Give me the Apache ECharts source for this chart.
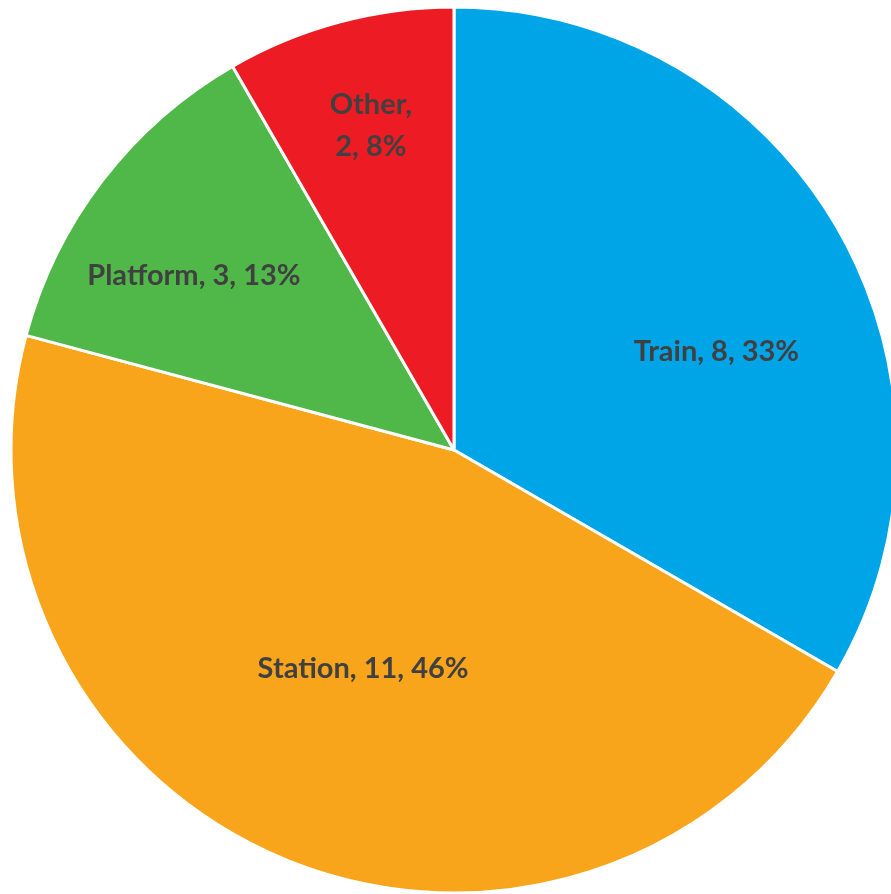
<!DOCTYPE html>
<html>
<head>
<meta charset="utf-8">
<script src="https://cdn.jsdelivr.net/npm/echarts@6/dist/echarts.min.js"></script>
<style>html,body{margin:0;padding:0;background:#fff}#c{width:891px;height:894px}</style>
</head>
<body>
<div id="c"></div>
<script>
const categories = ['Train', 'Station', 'Platform', 'Other'];
const values = [8, 11, 3, 2];

const colors = ['#00A5E8', '#F8A51B', '#50B848', '#ED1C24'];
const labelStyle = {
  Train: { offset: [68, 14] },
  Station: { offset: [-5, 11] },
  Platform: { offset: [-82, -38] },
  Other: { offset: [-25, -108], lineBreak: true }
};

const chart = echarts.init(document.getElementById('c'));
chart.setOption({
  animation: false,
  series: [{
    type: 'pie',
    center: [454, 450],
    radius: [0, 443],
    startAngle: 90,
    clockwise: true,
    avoidLabelOverlap: false,
    percentPrecision: 0,
    itemStyle: { borderColor: '#fff', borderWidth: 3 },
    label: {
      position: 'inside',
      color: '#404040',
      fontFamily: 'Lato',
      fontWeight: 'bold',
      fontSize: 29,
      lineHeight: 42
    },
    labelLine: { show: false },
    data: categories.map((c, i) => ({
      name: c,
      value: values[i],
      itemStyle: { color: colors[i] },
      label: {
        offset: labelStyle[c].offset,
        formatter: p => labelStyle[c].lineBreak
          ? p.name + ',\n' + p.value + ', ' + p.percent + '%'
          : p.name + ', ' + p.value + ', ' + p.percent + '%'
      }
    }))
  }]
});
</script>
</body>
</html>
